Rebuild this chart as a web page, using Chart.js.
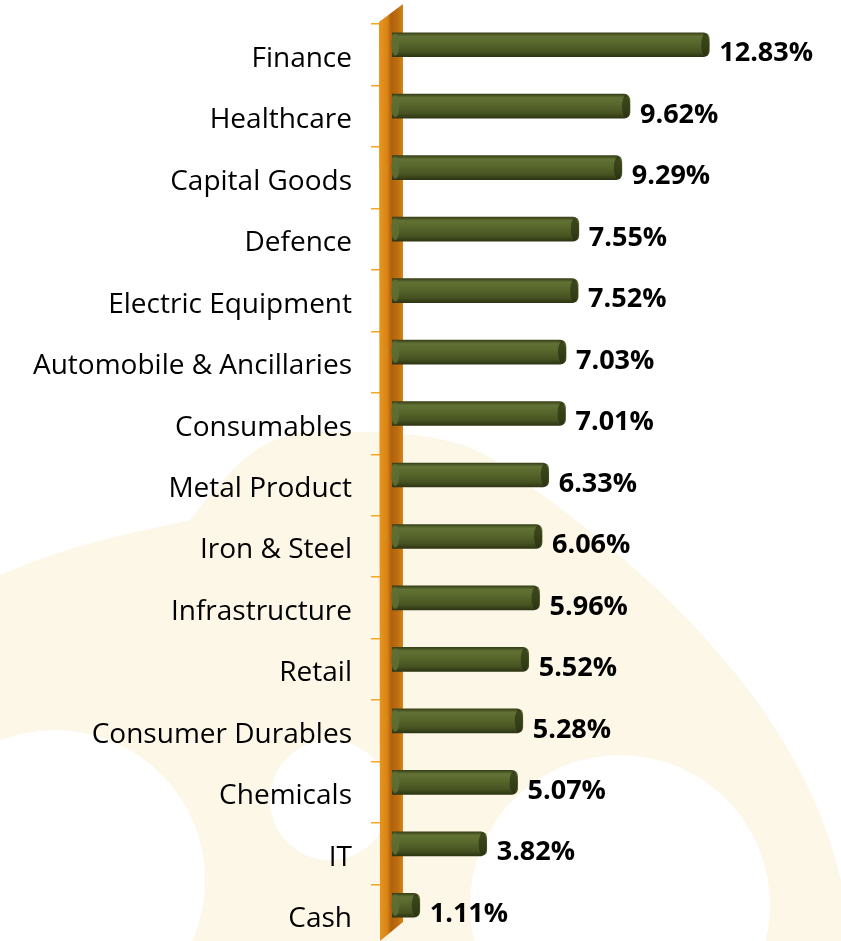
<!DOCTYPE html>
<html>
<head>
<meta charset="utf-8">
<script src="https://cdn.jsdelivr.net/npm/chart.js@4.4.0/dist/chart.umd.min.js"></script>
<style>
  html, body { margin: 0; padding: 0; background: #fff; overflow: hidden; }
  #wrap { width: 841px; height: 946px; }
</style>
</head>
<body>
<div id="wrap"><canvas id="grafico" width="841" height="946"></canvas></div>
<script>
const categorias = ['Finance', 'Healthcare', 'Capital Goods', 'Defence', 'Electric Equipment',
  'Automobile & Ancillaries', 'Consumables', 'Metal Product', 'Iron & Steel', 'Infrastructure',
  'Retail', 'Consumer Durables', 'Chemicals', 'IT', 'Cash'];
const pesos = [12.83, 9.62, 9.29, 7.55, 7.52, 7.03, 7.01, 6.33, 6.06, 5.96, 5.52, 5.28, 5.07, 3.82, 1.11];

const fonte = '"Open Sans", Lato, sans-serif';
const subida = 10; // barras 3D desenhadas um pouco acima do centro

// marca d'agua creme no fundo
const fundo = {
  id: 'fundo',
  beforeDraw(chart) {
    const ctx = chart.ctx;
    ctx.save();
    ctx.fillStyle = '#fdf7e8';
    ctx.beginPath();
    ctx.moveTo(0, 575);
    ctx.bezierCurveTo(80, 540, 150, 530, 190, 520);
    ctx.bezierCurveTo(230, 470, 260, 430, 320, 432);
    ctx.bezierCurveTo(420, 430, 470, 440, 500, 465);
    ctx.bezierCurveTo(640, 560, 800, 700, 841, 880);
    ctx.lineTo(841, 946);
    ctx.lineTo(0, 946);
    ctx.closePath();
    ctx.fill();
    ctx.fillStyle = '#ffffff';
    ctx.beginPath(); ctx.arc(55, 880, 150, 0, Math.PI * 2); ctx.fill();
    ctx.beginPath(); ctx.arc(330, 800, 60, 0, Math.PI * 2); ctx.fill();
    ctx.beginPath(); ctx.arc(620, 905, 150, 0, Math.PI * 2); ctx.fill();
    ctx.restore();
  }
};

// parede laranja do eixo + deslocamento das barras
const parede = {
  id: 'parede',
  beforeDatasetsDraw(chart) {
    const ctx = chart.ctx;
    const l = chart.chartArea.left - 1;
    const r = l + 24;
    ctx.save();
    const g = ctx.createLinearGradient(l, 0, r, 0);
    g.addColorStop(0, '#e9961f');
    g.addColorStop(0.35, '#d88416');
    g.addColorStop(0.5, '#b0600d');
    g.addColorStop(0.8, '#bf6f10');
    g.addColorStop(1, '#d3861a');
    ctx.fillStyle = g;
    ctx.beginPath();
    ctx.moveTo(l, 22);
    ctx.lineTo(r, 4);
    ctx.lineTo(r, 922);
    ctx.lineTo(l + 1, 941);
    ctx.closePath();
    ctx.fill();
    ctx.restore();
    ctx.save();
    ctx.translate(0, -subida);
  },
  afterDatasetsDraw(chart) {
    const ctx = chart.ctx;
    const meta = chart.getDatasetMeta(0);
    meta.data.forEach(bar => {
      const h = bar.height;
      ctx.fillStyle = 'rgba(95,112,52,0.85)';
      ctx.beginPath();
      ctx.ellipse(bar.base + 3, bar.y, 4, h / 2 - 1, 0, 0, Math.PI * 2);
      ctx.fill();
      ctx.fillStyle = 'rgba(35,42,14,0.6)';
      ctx.beginPath();
      ctx.ellipse(bar.x - 4, bar.y, 4, h / 2 - 1, 0, 0, Math.PI * 2);
      ctx.fill();
    });
    ctx.restore();
    ctx.save();
    ctx.font = 'bold 27px ' + fonte;
    ctx.fillStyle = '#000';
    ctx.textBaseline = 'middle';
    ctx.textAlign = 'left';
    meta.data.forEach((bar, i) => {
      ctx.fillText(pesos[i].toFixed(2) + '%', bar.x + 10, bar.y - subida + 9);
    });
    ctx.restore();
  }
};

new Chart(document.getElementById('grafico'), {
  type: 'bar',
  data: {
    labels: categorias,
    datasets: [{
      data: pesos,
      barThickness: 24,
      borderRadius: { topRight: 6, bottomRight: 6 },
      borderSkipped: false,
      backgroundColor: function (context) {
        const chart = context.chart;
        if (!chart.chartArea || !chart.scales.y) return '#55632a';
        const yc = chart.scales.y.getPixelForValue(context.dataIndex);
        const g = chart.ctx.createLinearGradient(0, yc - 12, 0, yc + 12);
        g.addColorStop(0, '#374018');
        g.addColorStop(0.15, '#627235');
        g.addColorStop(0.45, '#57662b');
        g.addColorStop(0.8, '#465221');
        g.addColorStop(1, '#2d3513');
        return g;
      }
    }]
  },
  options: {
    responsive: false,
    animation: false,
    indexAxis: 'y',
    layout: { padding: { top: 24, right: 4, bottom: 0, left: 0 } },
    plugins: {
      legend: { display: false },
      tooltip: { enabled: false }
    },
    scales: {
      x: { display: false, min: -0.5, max: 18 },
      y: {
        afterFit: function (s) {
          s.width = 380;
          s.paddingTop = 0;
          s.paddingBottom = 0;
        },
        border: { display: false },
        grid: {
          offset: true,
          drawOnChartArea: false,
          tickLength: 9,
          color: '#f5a623',
          lineWidth: 1.5
        },
        ticks: {
          padding: 19,
          labelOffset: 4,
          color: '#000',
          font: { family: fonte, size: 28 }
        }
      }
    }
  },
  plugins: [fundo, parede]
});
</script>
</body>
</html>
